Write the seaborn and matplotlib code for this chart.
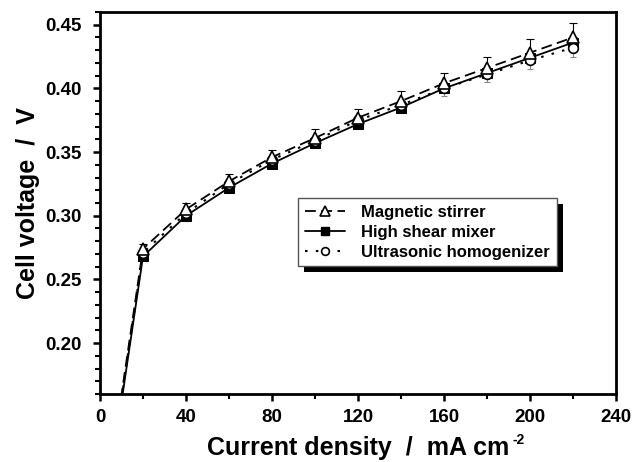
import numpy as np
import pandas as pd
import matplotlib
matplotlib.use("Agg")
import matplotlib.pyplot as plt
import matplotlib.transforms as mtransforms
from matplotlib.patches import Rectangle
from matplotlib.lines import Line2D
import seaborn as sns

# ---- data ----
current_density = [0, 20, 40, 60, 80, 100, 120, 140, 160, 180, 200, 220]
magnetic_stirrer = [0.045, 0.274, 0.305, 0.327, 0.346, 0.361, 0.377, 0.390, 0.404, 0.416, 0.428, 0.440]
high_shear_mixer = [0.040, 0.268, 0.300, 0.322, 0.341, 0.357, 0.372, 0.385, 0.400, 0.412, 0.424, 0.436]
ultrasonic_homog = [0.042, 0.271, 0.302, 0.325, 0.344, 0.359, 0.375, 0.387, 0.400, 0.411, 0.422, 0.432]
err_magnetic = [0.0, 0.004, 0.005, 0.006, 0.006, 0.007, 0.007, 0.008, 0.008, 0.009, 0.011, 0.011]
err_ultra = [0.0, 0.003, 0.003, 0.004, 0.004, 0.004, 0.005, 0.005, 0.006, 0.006, 0.007, 0.007]
series_names = ["Magnetic stirrer", "High shear mixer", "Ultrasonic homogenizer"]
x_ticks = [0, 40, 80, 120, 160, 200, 240]
y_ticks = [0.20, 0.25, 0.30, 0.35, 0.40, 0.45]

sns.set_style("ticks")
plt.rcParams["font.family"] = ["Liberation Sans", "DejaVu Sans"]
plt.rcParams["font.weight"] = "bold"
plt.rcParams["text.color"] = "black"
plt.rcParams["axes.labelcolor"] = "black"
plt.rcParams["xtick.color"] = "black"
plt.rcParams["ytick.color"] = "black"

fig = plt.figure(figsize=(6.33, 4.62), dpi=100)
ax = fig.add_axes([100 / 633, 1 - 394 / 462, 516 / 633, 382 / 462])

df = pd.DataFrame({"x": current_density, "ms": magnetic_stirrer,
                   "hs": high_shear_mixer, "us": ultrasonic_homog})

# error bars (drawn below markers)
ax.errorbar(current_density[1:], magnetic_stirrer[1:],
            yerr=[np.zeros(len(err_magnetic) - 1), err_magnetic[1:]],
            fmt="none", ecolor="black", elinewidth=0.8, capsize=3, capthick=0.8, zorder=2)
ax.errorbar(current_density[1:], ultrasonic_homog[1:],
            yerr=[err_ultra[1:], np.zeros(len(err_ultra) - 1)],
            fmt="none", ecolor="#888888", elinewidth=0.8, capsize=2.5, capthick=0.8, zorder=2)

ms_style = dict(color="black", linestyle=(0, (6, 3)), linewidth=1.3, marker="^",
                markersize=8.5, markerfacecolor="white", markeredgecolor="black",
                markeredgewidth=1.2)
hs_style = dict(color="black", linestyle="-", linewidth=1.3, marker="s",
                markersize=7, markerfacecolor="black", markeredgecolor="black")
us_style = dict(color="black", linestyle=(0, (1.2, 4)), linewidth=1.5, marker="o",
                markersize=7, markerfacecolor="white", markeredgecolor="black",
                markeredgewidth=1.2)

sns.lineplot(data=df, x="x", y="hs", ax=ax, zorder=3, **hs_style)
sns.lineplot(data=df, x="x", y="us", ax=ax, zorder=4, **us_style)
sns.lineplot(data=df, x="x", y="ms", ax=ax, zorder=5, **ms_style)

ax.set_xlim(0, 240)
ax.set_ylim(0.16, 0.46)
ax.set_xticks(x_ticks)
ax.set_xticks(np.arange(20, 240, 40), minor=True)
ax.set_yticks(y_ticks)
ax.set_yticks(np.arange(0.16, 0.461, 0.01), minor=True)
ax.set_xticklabels([str(v) for v in x_ticks], fontsize=13.5, fontweight="bold")
ax.set_yticklabels([f"{v:.2f}" for v in y_ticks], fontsize=13.5, fontweight="bold")
ax.tick_params(axis="both", which="major", direction="out", length=5, width=1.8,
               colors="black")
ax.tick_params(axis="x", which="major", pad=6)
ax.tick_params(axis="y", which="major", pad=8)
ax.tick_params(axis="both", which="minor", direction="out", length=3.5, width=1.5)
for s in ax.spines.values():
    s.set_linewidth(2)
    s.set_color("black")

ax.set_xlabel("Current density  /  mA cm", fontsize=18, fontweight="bold", labelpad=7)
ax.set_ylabel("Cell voltage  /  V", fontsize=18, fontweight="bold", labelpad=4)

handles = [Line2D([], [], **ms_style), Line2D([], [], **hs_style), Line2D([], [], **us_style)]
leg = ax.legend(handles, series_names, loc="upper left",
                bbox_to_anchor=((298 - 100) / 516, (394 - 198) / 382),
                prop={"weight": "bold", "size": 12}, frameon=True,
                fancybox=False, edgecolor="#555555", framealpha=1,
                handlelength=2.4, handletextpad=1.0, labelspacing=0.3,
                borderpad=0.4, borderaxespad=0, markerscale=0.8)
leg.get_frame().set_linewidth(1.0)
leg.set_zorder(10)

fig.canvas.draw()
bb = leg.get_window_extent()
shadow = Rectangle((bb.x0 + 6, bb.y0 - 6), bb.width, bb.height,
                   transform=mtransforms.IdentityTransform(), facecolor="black",
                   edgecolor="none", zorder=9, clip_on=False)
ax.add_artist(shadow)

# superscript "-2" after the x-label
lb = ax.xaxis.label.get_window_extent()
fig.text((lb.x1 + 3) / fig.bbox.width, (lb.y1 + 3) / fig.bbox.height, "-2",
         fontsize=10, fontweight="bold", ha="left", va="top", color="black")

fig.savefig("out.png", dpi=100)
